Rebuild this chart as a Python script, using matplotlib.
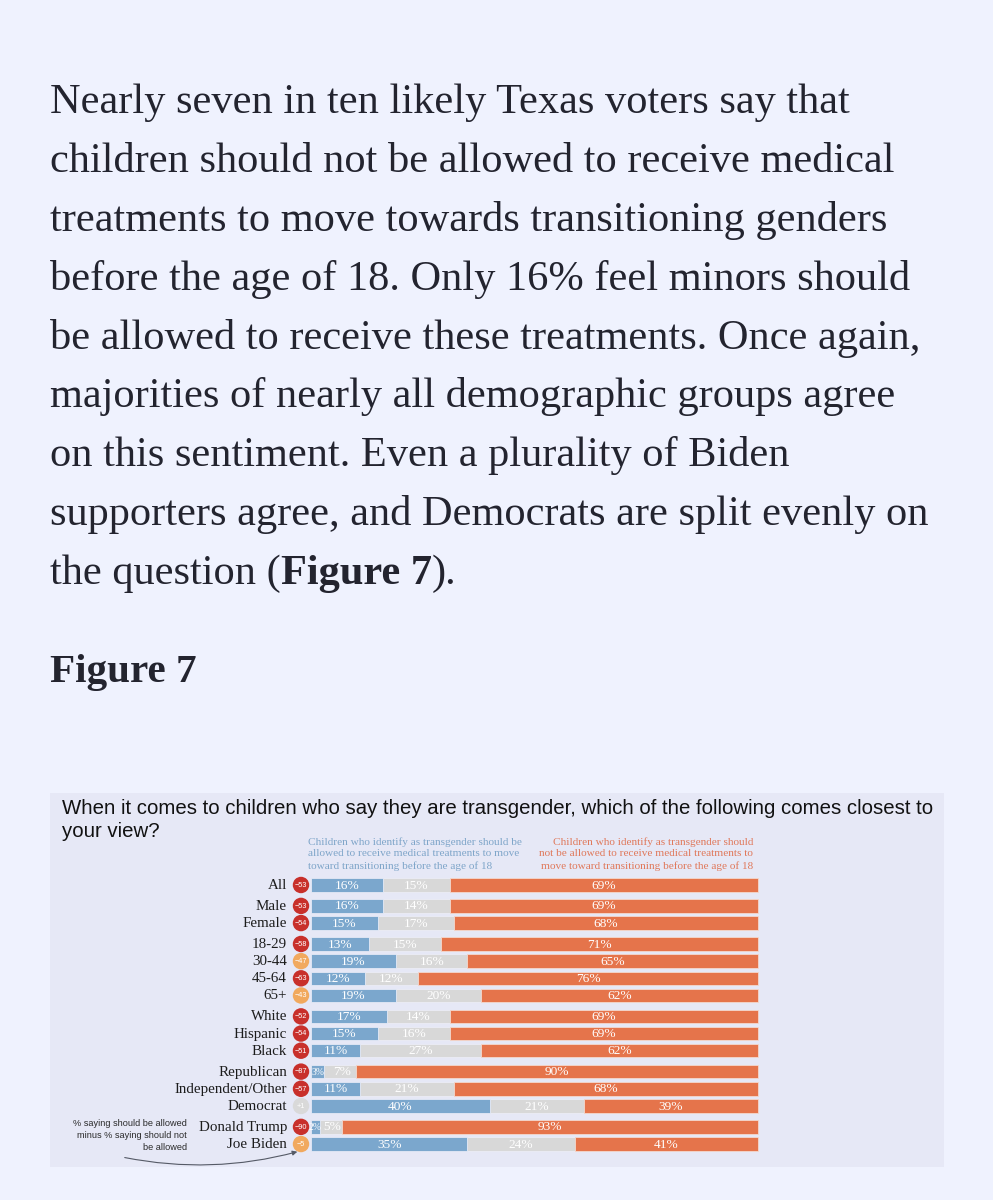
import matplotlib
matplotlib.use("Agg")
import matplotlib.pyplot as plt

# ---------------- data ----------------
groups = ["All", "Male", "Female", "18-29", "30-44", "45-64", "65+",
          "White", "Hispanic", "Black", "Republican", "Independent/Other",
          "Democrat", "Donald Trump", "Joe Biden"]
group_ids = [0, 1, 1, 2, 2, 2, 2, 3, 3, 3, 4, 4, 4, 5, 5]
allowed = [16, 16, 15, 13, 19, 12, 19, 17, 15, 11, 3, 11, 40, 2, 35]
neutral = [15, 14, 17, 15, 16, 12, 20, 14, 16, 27, 7, 21, 21, 5, 24]
not_allowed = [69, 69, 68, 71, 65, 76, 62, 69, 69, 62, 90, 68, 39, 93, 41]
net = [-53, -53, -54, -58, -47, -63, -43, -52, -54, -51, -87, -57, 1, -90, -5]

paragraph = [
    "Nearly seven in ten likely Texas voters say that",
    "children should not be allowed to receive medical",
    "treatments to move towards transitioning genders",
    "before the age of 18. Only 16% feel minors should",
    "be allowed to receive these treatments. Once again,",
    "majorities of nearly all demographic groups agree",
    "on this sentiment. Even a plurality of Biden",
    "supporters agree, and Democrats are split evenly on",
]
last_line = ["the question (", "Figure 7", ")."]
heading = "Figure 7"
chart_title = ["When it comes to children who say they are transgender, which of the following comes closest to",
               "your view?"]
header_left = ["Children who identify as transgender should be",
               "allowed to receive medical treatments to move",
               "toward transitioning before the age of 18"]
header_right = ["Children who identify as transgender should",
                "not be allowed to receive medical treatments to",
                "move toward transitioning before the age of 18"]
note = ["% saying should be allowed", "minus % saying should not", "be allowed"]

# ---------------- style ----------------
W, H = 993, 1200
PAGE_BG = "#eff2fe"
CHART_BG = "#e6e8f6"
TXT = "#23242f"
BLUE = "#7ba7cd"
GREY = "#d8d8d8"
ORANGE = "#e5744b"
RED = "#c8302b"
AMBER = "#f1a95e"
LIGHT = "#d9d9d9"
SERIF = ["Liberation Serif", "DejaVu Serif"]
SANS = ["Liberation Sans", "DejaVu Sans"]

fig = plt.figure(figsize=(W / 100, H / 100), dpi=100, facecolor=PAGE_BG)
renderer = fig.canvas.get_renderer()


def fx(px):
    return px / W


def fy(py):
    return 1 - py / H


def fit_size(s, target, **kw):
    t = fig.text(0, 0, s, fontsize=20, **kw)
    w = t.get_window_extent(renderer).width
    t.remove()
    return 20 * target / w


# ---------------- paragraph ----------------
body_fs = fit_size(paragraph[1], 845, family=SERIF)
baseline0, lead = 113, 58.9
for i, line in enumerate(paragraph):
    fig.text(fx(50), fy(baseline0 + i * lead), line, fontsize=body_fs,
             family=SERIF, color=TXT, va="baseline", ha="left")
x = 50
yb = baseline0 + len(paragraph) * lead
for j, piece in enumerate(last_line):
    t = fig.text(fx(x), fy(yb), piece, fontsize=body_fs, family=SERIF,
                 color=TXT, va="baseline", ha="left",
                 fontweight="bold" if j == 1 else "normal")
    x += t.get_window_extent(renderer).width

head_fs = fit_size(heading, 147, family=SERIF, fontweight="bold")
fig.text(fx(50), fy(682), heading, fontsize=head_fs, family=SERIF,
         fontweight="bold", color=TXT, va="baseline")

# ---------------- chart ----------------
BOX_L, BOX_R, BOX_T, BOX_B = 50, 944, 793, 1167
BAR_L, BAR_R = 311, 758
ppp = (BAR_R - BAR_L) / 100.0  # pixels per percent

ax = fig.add_axes([fx(BOX_L), fy(BOX_B), (BOX_R - BOX_L) / W, (BOX_B - BOX_T) / H])
ax.set_facecolor(CHART_BG)
ax.set_xlim((BOX_L - BAR_L) / ppp, (BOX_R - BAR_L) / ppp)
ax.set_ylim(BOX_B, BOX_T)
for sp in ax.spines.values():
    sp.set_visible(False)
ax.set_xticks([])
ax.set_yticks([])

row_y = [885 + 17.17 * i + 3.73 * g for i, g in enumerate(group_ids)]
bar_h = 13.5
EDGE = "#eef0fa"

# blue anchored at 0, orange anchored at 100, grey fills the middle
orange_left = [100 - o for o in not_allowed]
ax.barh(row_y, [100 - a for a in allowed], left=allowed, height=bar_h,
        color=GREY, edgecolor=EDGE, linewidth=0.5)
ax.barh(row_y, allowed, height=bar_h, color=BLUE, edgecolor=EDGE, linewidth=0.5)
ax.barh(row_y, not_allowed, left=orange_left, height=bar_h, color=ORANGE,
        edgecolor="#f4d9cf", linewidth=0.6)

LBL_FS = 9.6
SMALL_FS = 7.0
for y, a, n, o, ol in zip(row_y, allowed, neutral, not_allowed, orange_left):
    narrow = a * ppp < 20
    ax.text(a / 2, y + 0.6, f"{a}%", ha="center", va="center",
            fontsize=SMALL_FS if narrow else LBL_FS, family=SERIF, color="white")
    ax.text((a + ol) / 2 + (0.35 if narrow else 0), y + 0.6, f"{n}%",
            ha="center", va="center", fontsize=LBL_FS, family=SERIF, color="white")
    ax.text((ol + 100) / 2, y + 0.6, f"{o}%", ha="center", va="center",
            fontsize=LBL_FS, family=SERIF, color="white")

circle_x = (301 - BAR_L) / ppp
ccolors = [LIGHT if v > 0 else (AMBER if v > -50 else RED) for v in net]
ax.scatter([circle_x] * len(net), row_y, s=140, c=ccolors, zorder=3, linewidths=0)
for y, v in zip(row_y, net):
    ax.text(circle_x, y + 0.3, f"+{v}" if v > 0 else f"\u2212{-v}", ha="center",
            va="center", fontsize=5.3, color="white", family=SANS, zorder=4)

label_x = (287 - BAR_L) / ppp
for y, g in zip(row_y, groups):
    ax.text(label_x, y + 0.5, g, ha="right", va="center", fontsize=10.8,
            family=SERIF, color="#1c1c1c")

# chart title
title_fs = fit_size(chart_title[0], 866, family=SANS)
fig.text(fx(62), fy(814), chart_title[0], fontsize=title_fs, family=SANS,
         color="#111111", va="baseline")
fig.text(fx(62), fy(837), chart_title[1], fontsize=title_fs, family=SANS,
         color="#111111", va="baseline")

# column headers
hdr_fs = fit_size(header_left[0], 213, family=SERIF)
for i, (l, r) in enumerate(zip(header_left, header_right)):
    yy = 842 + 12 * i
    ax.text((308 - BAR_L) / ppp, yy, l, ha="left", va="center", fontsize=hdr_fs,
            family=SERIF, color="#7ea5c9")
    ax.text((753 - BAR_L) / ppp, yy, r, ha="right", va="center", fontsize=hdr_fs,
            family=SERIF, color="#e0785a")

# note with arrow
for i, line in enumerate(note):
    ax.text((187 - BAR_L) / ppp, 1124 + 12 * i, line, ha="right", va="center",
            fontsize=6.6, family=SANS, color="#2a2a2a")
ax.annotate("", xy=((300 - BAR_L) / ppp, 1151), xytext=((122 - BAR_L) / ppp, 1157),
            arrowprops=dict(arrowstyle="-|>", color="#555a66", lw=0.8,
                            mutation_scale=7, connectionstyle="arc3,rad=0.12"))

fig.savefig("out.png", dpi=100, facecolor=PAGE_BG)
